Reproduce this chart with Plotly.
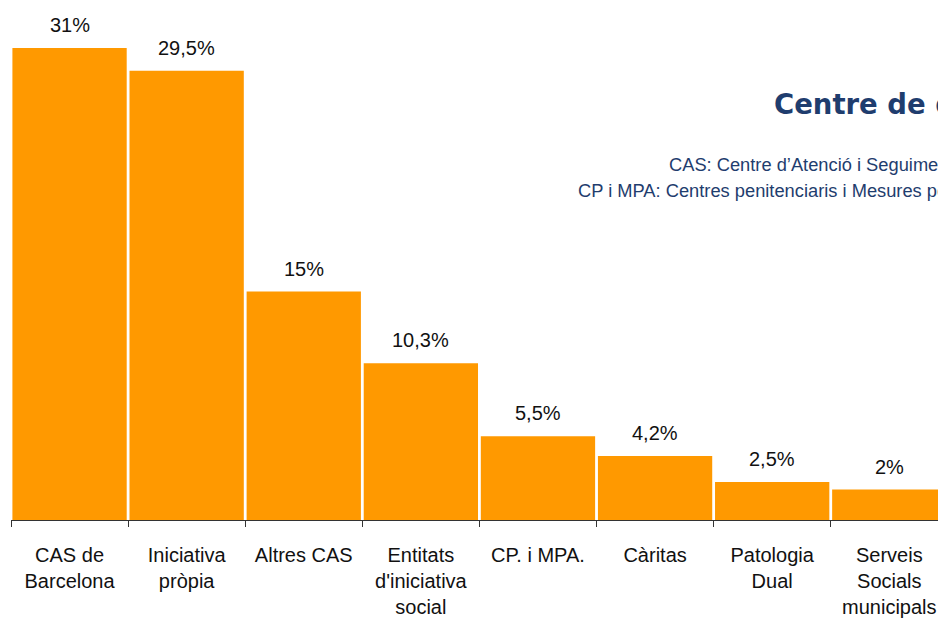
import plotly.graph_objects as go

# categories and percentages
categories = ["CAS de<br>Barcelona", "Iniciativa<br>pròpia", "Altres CAS",
              "Entitats<br>d'iniciativa<br>social", "CP. i MPA.", "Càritas",
              "Patologia<br>Dual", "Serveis<br>Socials<br>municipals"]
values = [31, 29.5, 15, 10.3, 5.5, 4.2, 2.5, 2]
value_labels = [f"{v:g}".replace(".", ",") + "%" for v in values]

title_text = "Centre de derivació"
note_lines = ["CAS: Centre d’Atenció i Seguiment",
              "CP i MPA: Centres penitenciaris i Mesures penals alternatives"]

NAVY = "#1f3d6e"
ORANGE = "#ff9900"

fig = go.Figure()
fig.add_trace(go.Bar(
    x=categories, y=values,
    marker=dict(color=ORANGE, line=dict(width=0)),
    cliponaxis=True,
))

# value labels above bars
for c, v, t in zip(categories, values, value_labels):
    fig.add_annotation(x=c, y=v, text=t, showarrow=False, yanchor="bottom",
                       yshift=10, font=dict(size=20, color="#111111"))

# title + notes (cut off by the right edge like the original)
fig.add_annotation(xref="paper", yref="paper", x=(772 - 11) / 927, y=1 - 104 / 520,
                   text="<b>" + title_text + "</b>", showarrow=False,
                   xanchor="left", yanchor="middle",
                   font=dict(family="DejaVu Sans", size=27.5, color=NAVY))
fig.add_annotation(xref="paper", yref="paper", x=(667 - 11) / 927, y=1 - 164 / 520,
                   text=note_lines[0], showarrow=False, xanchor="left", yanchor="middle",
                   font=dict(size=18.3, color=NAVY))
fig.add_annotation(xref="paper", yref="paper", x=(576 - 11) / 927, y=1 - 190 / 520,
                   text=note_lines[1], showarrow=False, xanchor="left", yanchor="middle",
                   font=dict(size=18.3, color=NAVY))

fig.update_layout(
    width=938, height=622,
    margin=dict(l=11, r=0, t=0, b=102),
    plot_bgcolor="white", paper_bgcolor="white",
    font=dict(family="Liberation Sans, Arial, sans-serif", size=20, color="#111111"),
    bargap=0.024,
    showlegend=False,
)
fig.update_xaxes(
    range=[-0.5, 7.416], showline=True, linecolor="#333333", linewidth=1,
    ticks="outside", tickson="boundaries", ticklen=6, tickcolor="#333333",
    ticklabelstandoff=17, showgrid=False,
)
fig.update_yaxes(range=[0, 34.15], visible=False, showgrid=False)

# page has 8px body margin by default; drop it so the figure fills the window
fig.write_html("out.html", config={"displayModeBar": False},
               post_script="document.body.style.margin='0';document.body.style.overflow='hidden';")
